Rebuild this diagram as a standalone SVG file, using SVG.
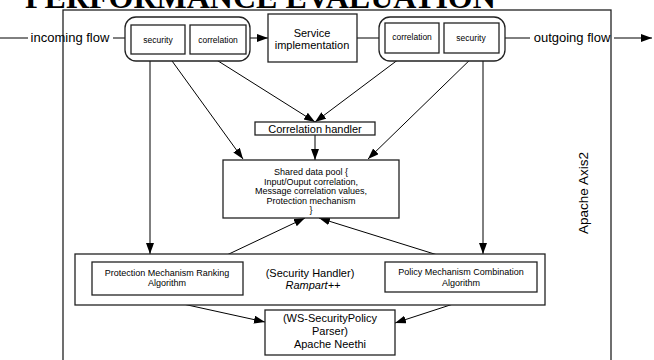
<svg xmlns="http://www.w3.org/2000/svg" width="654" height="360" viewBox="0 0 654 360">
<defs>
<marker id="ah" markerUnits="userSpaceOnUse" markerWidth="12" markerHeight="10" refX="11" refY="4" orient="auto">
<path d="M0,0 L11,4 L0,8 Z" fill="#000"/>
</marker>
<style>
.box{fill:#fff;stroke:#222;stroke-width:1.3}
.ln{fill:none;stroke:#000;stroke-width:1}
.t{font-family:"Liberation Sans",Arial,sans-serif;fill:#000;text-anchor:middle}
</style>
</defs>
<rect width="654" height="360" fill="#fff"/>
<text x="25" y="8" font-family="Liberation Serif,serif" font-weight="bold" font-size="32">PERFORMANCE EVALUATION</text>
<g id="axis2">
<rect x="63" y="10" width="548" height="360" class="box" fill="none"/>
<text class="t" font-size="13.5" transform="translate(588,193) rotate(-90)">Apache Axis2</text>
</g>
<g id="connectors">
<line class="ln" x1="0" y1="38" x2="28" y2="38"/>
<line class="ln" x1="113" y1="38" x2="125" y2="38"/>
<line class="ln" x1="250" y1="38" x2="268" y2="38" marker-end="url(#ah)"/>
<line class="ln" x1="357" y1="38" x2="379" y2="38"/>
<line class="ln" x1="505" y1="38" x2="530" y2="38"/>
<line class="ln" x1="614" y1="38" x2="652" y2="38" marker-end="url(#ah)"/>
<line class="ln" x1="150" y1="54" x2="150" y2="254" marker-end="url(#ah)"/>
<line class="ln" x1="167" y1="54" x2="243" y2="159" marker-end="url(#ah)"/>
<line class="ln" x1="207" y1="54" x2="315" y2="122" marker-end="url(#ah)"/>
<line class="ln" x1="407" y1="53" x2="315" y2="122" marker-end="url(#ah)"/>
<line class="ln" x1="477" y1="53" x2="368" y2="159" marker-end="url(#ah)"/>
<line class="ln" x1="483" y1="53" x2="483" y2="254" marker-end="url(#ah)"/>
<line class="ln" x1="315" y1="135" x2="315" y2="160" marker-end="url(#ah)"/>
<line class="ln" x1="212" y1="262" x2="305" y2="218" marker-end="url(#ah)"/>
<line class="ln" x1="460" y1="262" x2="319" y2="218" marker-end="url(#ah)"/>
<line class="ln" x1="142" y1="295" x2="265" y2="322" marker-end="url(#ah)"/>
<line class="ln" x1="490" y1="292" x2="395" y2="323" marker-end="url(#ah)"/>
</g>
<g id="incoming">
<text class="t" x="70" y="42" font-size="13">incoming flow</text>
</g>
<g id="outgoing">
<text class="t" x="572" y="42" font-size="13">outgoing flow</text>
</g>
<g id="in-handlers">
<rect x="125" y="17" width="125" height="44" rx="11" class="box"/>
<rect x="131" y="25" width="54" height="29" class="box"/>
<text class="t" x="158" y="43" font-size="8.5">security</text>
<rect x="190" y="25" width="56" height="29" class="box"/>
<text class="t" x="218" y="43" font-size="8.5">correlation</text>
</g>
<g id="service">
<rect x="268" y="14" width="89" height="48" class="box"/>
<text class="t" x="312" y="37" font-size="11">Service</text>
<text class="t" x="312" y="49" font-size="11">implementation</text>
</g>
<g id="out-handlers">
<rect x="379" y="17" width="126" height="44" rx="11" class="box"/>
<rect x="385" y="23" width="54" height="30" class="box"/>
<text class="t" x="412" y="40" font-size="8.5">correlation</text>
<rect x="444" y="23" width="55" height="30" class="box"/>
<text class="t" x="471" y="41" font-size="8.5">security</text>
</g>
<g id="correlation-handler">
<rect x="255" y="122" width="120" height="13" class="box"/>
<text class="t" x="315" y="132.5" font-size="11">Correlation handler</text>
</g>
<g id="shared-pool">
<rect x="223" y="160" width="176" height="58" class="box"/>
<text class="t" x="311" y="175" font-size="9">Shared data pool {</text>
<text class="t" x="311" y="184.5" font-size="9">Input/Ouput correlation,</text>
<text class="t" x="311" y="194" font-size="9">Message correlation values,</text>
<text class="t" x="311" y="203.5" font-size="9">Protection mechanism</text>
<text class="t" x="311" y="213" font-size="9">}</text>
</g>
<g id="rampart">
<rect x="75" y="254" width="470" height="51" class="box"/>
<text class="t" x="310" y="277" font-size="11">(Security Handler)</text>
<text class="t" x="313" y="289" font-size="11" font-style="italic">Rampart++</text>
</g>
<g id="protection">
<rect x="92" y="262" width="151" height="33" class="box"/>
<text class="t" x="167" y="276" font-size="9">Protection Mechanism Ranking</text>
<text class="t" x="167" y="286" font-size="9">Algorithm</text>
</g>
<g id="policy">
<rect x="385" y="262" width="152" height="30" class="box"/>
<text class="t" x="461" y="275" font-size="9">Policy Mechanism Combination</text>
<text class="t" x="461" y="286" font-size="9">Algorithm</text>
</g>
<g id="neethi">
<rect x="265" y="310" width="130" height="45" class="box"/>
<text class="t" x="330" y="322" font-size="11">(WS-SecurityPolicy</text>
<text class="t" x="330" y="335" font-size="11">Parser)</text>
<text class="t" x="330" y="348" font-size="11">Apache Neethi</text>
</g>
</svg>
